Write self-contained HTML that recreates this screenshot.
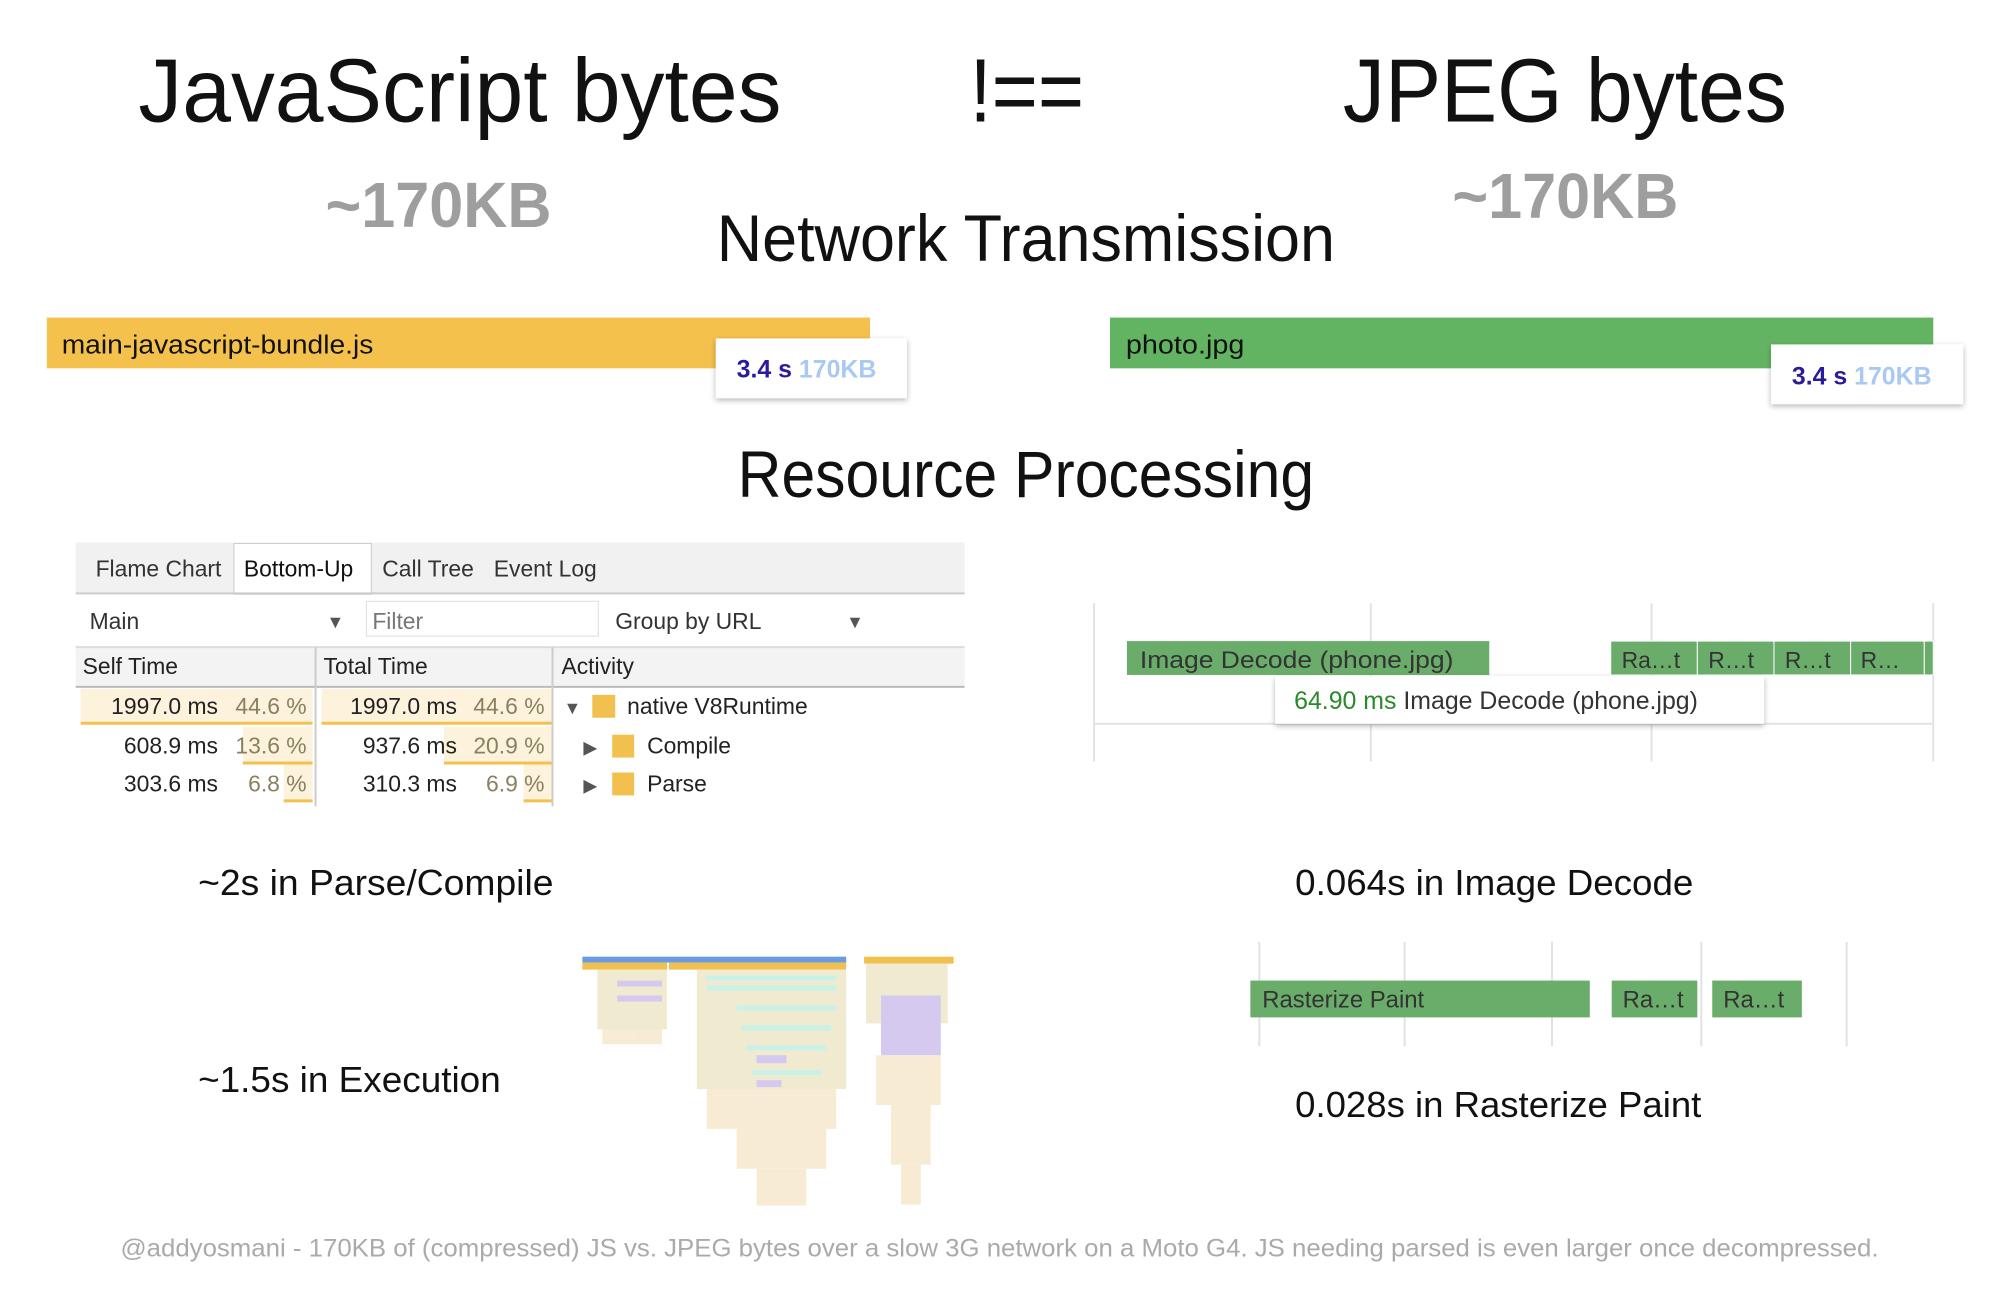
<!DOCTYPE html>
<html><head><meta charset="utf-8"><style>html,body{margin:0;padding:0;background:#fff}svg{display:block}text{font-family:"Liberation Sans",sans-serif}</style></head>
<body>
<svg width="2000" height="1293" viewBox="0 0 2000 1293" xmlns="http://www.w3.org/2000/svg">
<defs><filter id="sh" x="-10%" y="-20%" width="130%" height="150%"><feDropShadow dx="0" dy="2" stdDeviation="3" flood-color="#000" flood-opacity="0.3"/></filter></defs>
<g transform="scale(0.9955)">
<!-- titles -->
<text x="139" y="122" font-size="90" fill="#111" textLength="646" lengthAdjust="spacingAndGlyphs">JavaScript bytes</text>
<text x="974" y="122" font-size="90" fill="#111" textLength="115" lengthAdjust="spacingAndGlyphs">!==</text>
<text x="1349" y="122" font-size="90" fill="#111" textLength="446" lengthAdjust="spacingAndGlyphs">JPEG bytes</text>
<text x="327" y="228" font-size="64" font-weight="bold" fill="#9e9e9e" textLength="227" lengthAdjust="spacingAndGlyphs">~170KB</text>
<text x="1459" y="219" font-size="64" font-weight="bold" fill="#9e9e9e" textLength="227" lengthAdjust="spacingAndGlyphs">~170KB</text>
<text x="720" y="262" font-size="66" fill="#111" textLength="621" lengthAdjust="spacingAndGlyphs">Network Transmission</text>
<!-- bars -->
<rect x="47" y="319" width="827" height="51" fill="#f4c24c"/>
<text x="62" y="355" font-size="26" fill="#111" textLength="313" lengthAdjust="spacingAndGlyphs">main-javascript-bundle.js</text>
<rect x="719" y="340" width="192" height="60" fill="#fff" filter="url(#sh)"/>
<text x="740" y="379" font-size="25" font-weight="bold"><tspan fill="#2a1a9c">3.4 s </tspan><tspan fill="#a9c9f2">170KB</tspan></text>
<rect x="1115" y="319" width="827" height="51" fill="#63b462"/>
<text x="1131" y="355" font-size="26" fill="#111" textLength="119" lengthAdjust="spacingAndGlyphs">photo.jpg</text>
<rect x="1779" y="346" width="193" height="60" fill="#fff" filter="url(#sh)"/>
<text x="1800" y="386" font-size="25" font-weight="bold"><tspan fill="#2a1a9c">3.4 s </tspan><tspan fill="#a9c9f2">170KB</tspan></text>
<text x="741" y="499" font-size="66" fill="#111" textLength="579" lengthAdjust="spacingAndGlyphs">Resource Processing</text>
<!-- devtools panel -->
<rect x="76" y="545" width="893" height="51" fill="#f1f1f1"/>
<rect x="235" y="546" width="138" height="51" fill="#fff" stroke="#ccc"/>
<line x1="76" y1="596" x2="969" y2="596" stroke="#ccc" stroke-width="2"/>
<g font-size="23" fill="#333">
<text x="96" y="579">Flame Chart</text><text x="245" y="579" fill="#111">Bottom-Up</text><text x="384" y="579">Call Tree</text><text x="496" y="579">Event Log</text>
<text x="90" y="632">Main</text><text x="328" y="631" font-size="18" fill="#555">▼</text>
<rect x="368" y="604" width="233" height="35" fill="#fff" stroke="#ddd"/>
<text x="374" y="632" fill="#777">Filter</text>
<text x="618" y="632">Group by URL</text><text x="850" y="631" font-size="18" fill="#555">▼</text>
</g>
<rect x="76" y="650" width="893" height="40" fill="#f3f3f3"/>
<line x1="76" y1="650" x2="969" y2="650" stroke="#ddd" stroke-width="2"/>
<line x1="76" y1="690" x2="969" y2="690" stroke="#bbb" stroke-width="2"/>
<line x1="317" y1="650" x2="317" y2="810" stroke="#ccc" stroke-width="2"/>
<line x1="555" y1="650" x2="555" y2="810" stroke="#ccc" stroke-width="2"/>
<g fill="#fdf2dc">
<rect x="81" y="692" width="233" height="34"/><rect x="323" y="692" width="231" height="34"/>
<rect x="244" y="730" width="70" height="36"/><rect x="446" y="730" width="108" height="36"/>
<rect x="285" y="768" width="29" height="36"/><rect x="526" y="768" width="28" height="36"/>
</g>
<g fill="#f4c24c">
<rect x="81" y="725" width="233" height="3"/><rect x="323" y="725" width="231" height="3"/>
<rect x="244" y="765" width="70" height="3"/><rect x="446" y="765" width="108" height="3"/>
<rect x="285" y="803" width="29" height="3"/><rect x="526" y="803" width="28" height="3"/>
</g>
<g font-size="23" fill="#222" text-anchor="end">
<text x="219" y="717">1997.0 ms</text><text x="219" y="757">608.9 ms</text><text x="219" y="795">303.6 ms</text>
<text x="459" y="717">1997.0 ms</text><text x="459" y="757">937.6 ms</text><text x="459" y="795">310.3 ms</text>
</g>
<g font-size="23" fill="#8a8060" text-anchor="end">
<text x="308" y="717">44.6 %</text><text x="308" y="757">13.6 %</text><text x="308" y="795">6.8 %</text>
<text x="547" y="717">44.6 %</text><text x="547" y="757">20.9 %</text><text x="547" y="795">6.9 %</text>
</g>
<g font-size="23" fill="#222">
<text x="83" y="677">Self Time</text><text x="325" y="677">Total Time</text><text x="564" y="677">Activity</text>
<text x="566" y="717" font-size="18" fill="#555">▼</text><rect x="595" y="698" width="23" height="23" fill="#f1c04e"/><text x="630" y="717">native V8Runtime</text>
<text x="586" y="757" font-size="18" fill="#555">▶</text><rect x="615" y="738" width="22" height="23" fill="#f1c04e"/><text x="650" y="757">Compile</text>
<text x="586" y="795" font-size="18" fill="#555">▶</text><rect x="615" y="776" width="22" height="23" fill="#f1c04e"/><text x="650" y="795">Parse</text>
</g>
<!-- image decode timeline -->
<g stroke="#e2e2e2" stroke-width="2">
<line x1="1099" y1="606" x2="1099" y2="765"/><line x1="1377" y1="606" x2="1377" y2="765"/><line x1="1659" y1="606" x2="1659" y2="765"/><line x1="1942" y1="606" x2="1942" y2="765"/>
<line x1="1099" y1="727" x2="1942" y2="727"/>
</g>
<rect x="1132" y="644" width="364" height="34" fill="#6aad6a"/>
<text x="1145" y="671" font-size="24" fill="#333" font-family="DejaVu Sans" textLength="315" lengthAdjust="spacingAndGlyphs">Image Decode (phone.jpg)</text>
<g fill="#6aad6a" stroke="#fff" stroke-width="1">
<rect x="1618" y="644" width="87" height="34"/><rect x="1705" y="644" width="77" height="34"/><rect x="1782" y="644" width="77" height="34"/><rect x="1859" y="644" width="74" height="34"/><rect x="1933" y="644" width="9" height="34"/>
</g>
<g font-size="23" fill="#333"><text x="1629" y="671">Ra…t</text><text x="1716" y="671">R…t</text><text x="1793" y="671">R…t</text><text x="1869" y="671">R…</text></g>
<rect x="1281" y="679" width="491" height="48" fill="#fff" filter="url(#sh)"/>
<text x="1300" y="712" font-size="25"><tspan fill="#2a8a2a">64.90 ms </tspan><tspan fill="#333">Image Decode (phone.jpg)</tspan></text>
<!-- captions -->
<g font-size="36" fill="#111">
<text x="199" y="899" textLength="357" lengthAdjust="spacingAndGlyphs">~2s in Parse/Compile</text>
<text x="1301" y="899" textLength="400" lengthAdjust="spacingAndGlyphs">0.064s in Image Decode</text>
<text x="199" y="1097" textLength="304" lengthAdjust="spacingAndGlyphs">~1.5s in Execution</text>
<text x="1301" y="1122" textLength="408" lengthAdjust="spacingAndGlyphs">0.028s in Rasterize Paint</text>
</g>
<!-- rasterize -->
<g stroke="#e2e2e2" stroke-width="2">
<line x1="1265" y1="946" x2="1265" y2="1051"/><line x1="1411" y1="946" x2="1411" y2="1051"/><line x1="1559" y1="946" x2="1559" y2="1051"/><line x1="1709" y1="946" x2="1709" y2="1051"/><line x1="1855" y1="946" x2="1855" y2="1051"/>
</g>
<rect x="1256" y="985" width="341" height="37" fill="#6aad6a"/>
<rect x="1619" y="985" width="86" height="37" fill="#6aad6a"/>
<rect x="1720" y="985" width="90" height="37" fill="#6aad6a"/>
<g font-size="24" fill="#333"><text x="1268" y="1012" font-family="DejaVu Sans">Rasterize Paint</text><text x="1630" y="1012">Ra…t</text><text x="1731" y="1012">Ra…t</text></g>
<!-- flame chart -->
<g>
<rect x="585" y="961" width="265" height="6" fill="#6b9be0"/>
<rect x="585" y="967" width="85" height="7" fill="#f1c04e"/><rect x="672" y="967" width="178" height="7" fill="#f1c04e"/>
<rect x="868" y="961" width="90" height="7" fill="#f1c04e"/>
<g fill="#f0ead0"><rect x="600" y="974" width="70" height="60"/><rect x="700" y="974" width="150" height="120"/><rect x="870" y="968" width="82" height="60"/></g>
<g fill="#c8f2e8"><rect x="710" y="980" width="130" height="5"/><rect x="710" y="990" width="130" height="5"/><rect x="740" y="1010" width="100" height="5"/><rect x="745" y="1030" width="90" height="5"/><rect x="750" y="1050" width="80" height="5"/><rect x="755" y="1075" width="70" height="5"/></g>
<g fill="#d6c9f0"><rect x="620" y="985" width="45" height="6"/><rect x="620" y="1000" width="45" height="6"/><rect x="885" y="1000" width="60" height="60"/><rect x="760" y="1060" width="30" height="8"/><rect x="760" y="1085" width="25" height="7"/></g>
<g fill="#f5dfb8" opacity="0.6"><rect x="605" y="1034" width="60" height="15"/><rect x="710" y="1094" width="130" height="40"/><rect x="740" y="1134" width="90" height="40"/><rect x="760" y="1174" width="50" height="37"/><rect x="880" y="1060" width="65" height="50"/><rect x="895" y="1110" width="40" height="60"/><rect x="905" y="1170" width="20" height="40"/></g>
</g>
<!-- footer -->
<text x="1004" y="1262" font-size="25" fill="#aaa" text-anchor="middle" textLength="1766" lengthAdjust="spacingAndGlyphs">@addyosmani - 170KB of (compressed) JS vs. JPEG bytes over a slow 3G network on a Moto G4. JS needing parsed is even larger once decompressed.</text>
</g>
</svg>
</body></html>
